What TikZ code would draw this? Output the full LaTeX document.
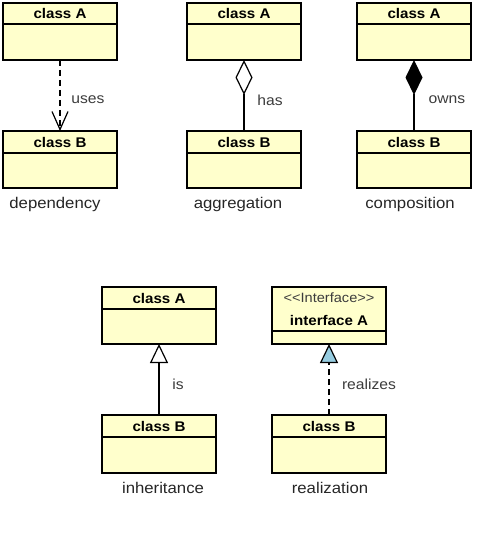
\documentclass[tikz,border=0pt]{standalone}
\usepackage{fontspec}
\setmainfont[FakeStretch=1.08]{Liberation Sans}
\usetikzlibrary{arrows.meta}
\definecolor{classfill}{RGB}{255,255,204}
\definecolor{realfill}{RGB}{150,204,224}
\definecolor{lblgray}{RGB}{60,60,60}
\newcommand\umlclass[6]{% name, left x, top y, height, divider offset, title
  \node[classbox, minimum height=#4pt] (#1) at (#2,#3) {};
  \draw[boxline] ([yshift=-#5pt]#1.north west) -- ([yshift=-#5pt]#1.north east);
  \node[classtitle] (#1t) at ([yshift=-#5pt/2]#1.north) {#6};
}
\begin{document}
\begin{tikzpicture}[x=1pt,y=-1pt,
  classbox/.style={draw, fill=classfill, line width=1.2pt, minimum width=114pt,
    inner sep=0pt, outer sep=0pt, anchor=north west},
  boxline/.style={line width=1.2pt},
  classtitle/.style={font=\bfseries\fontsize{14}{16}\selectfont, inner sep=0pt},
  lbl/.style={font=\fontsize{14.5}{17}\selectfont, text=lblgray, inner sep=0pt},
  caption/.style={font=\fontsize{15.5}{18}\selectfont, text=black!85, inner sep=0pt},
  conn/.style={line width=1.2pt},
  dashedconn/.style={conn, dash pattern=on 6pt off 4pt}
]
\useasboundingbox (0,0) rectangle (484,534);

% dependency
\umlclass{dA}{3}{3}{57}{21}{class A}
\umlclass{dB}{3}{131}{57}{22}{class B}
\draw[dashedconn, -{Straight Barb[length=18pt,width=16pt,line width=1.2pt]}] (dA) -- (dB);
\node[lbl] (dl) at (88,100) {uses};
\node[caption] (dc) at (55,204) {dependency};

% aggregation
\umlclass{aA}{187}{3}{57}{21}{class A}
\umlclass{aB}{187}{131}{57}{22}{class B}
\draw[conn, {Diamond[open,length=35pt,width=17pt]}-] (aA) -- (aB);
\node[lbl] (al) at (270,100) {has};
\node[caption] (ac) at (238,204) {aggregation};

% composition
\umlclass{cA}{357}{3}{57}{21}{class A}
\umlclass{cB}{357}{131}{57}{22}{class B}
\draw[conn, {Diamond[length=35pt,width=17pt]}-] (cA) -- (cB);
\node[lbl] (cl) at (447,100) {owns};
\node[caption] (cc) at (410,204) {composition};

% inheritance
\umlclass{iA}{102}{287}{57}{22}{class A}
\umlclass{iB}{102}{415}{58}{22}{class B}
\draw[conn, -{Triangle[open,length=19pt,width=18pt]}] (iB) -- (iA);
\node[lbl] (il) at (178,384) {is};
\node[caption] (ic) at (163,488) {inheritance};

% realization
\node[classbox, minimum height=57pt] (rA) at (272,287) {};
\draw[boxline] ([yshift=-44pt]rA.north west) -- ([yshift=-44pt]rA.north east);
\node[font=\fontsize{13.5}{16}\selectfont, text=lblgray, inner sep=0pt] (rAs) at (329,298) {<\kern0pt<Interface>\kern0pt>};
\node[classtitle] (rAt) at (329,320) {interface A};
\umlclass{rB}{272}{415}{58}{22}{class B}
\draw[dashedconn, -{Triangle[length=19pt,width=18pt,fill=realfill]}] (rB) -- (rA);
\node[lbl] (rl) at (369,384) {realizes};
\node[caption] (rc) at (330,488) {realization};
\end{tikzpicture}
\end{document}
